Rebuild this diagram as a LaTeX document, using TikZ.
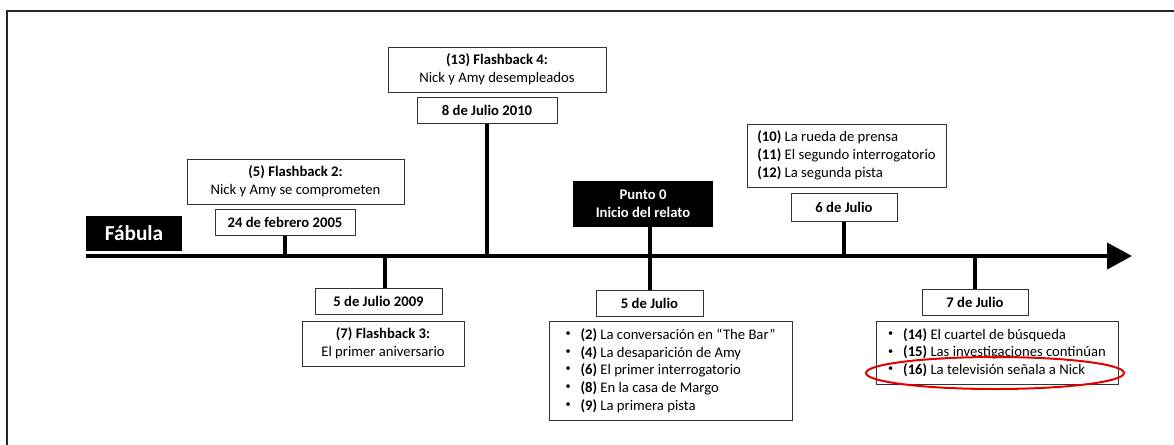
\documentclass[tikz,border=0pt]{standalone}
\usepackage{fontspec}
\setmainfont{Carlito}
\usetikzlibrary{arrows.meta}
\tikzset{
	datebox/.style={draw=black!80, line width=0.75pt, font=\bfseries, inner sep=0pt, minimum height=19.5pt},
	flashbox/.style={draw=black!80, line width=0.75pt, align=center, inner sep=0pt, minimum height=33.75pt},
	listbox/.style={draw=black!80, line width=0.75pt, align=left, inner sep=0pt},
	blackbox/.style={fill=black, text=white, font=\bfseries, align=center, inner sep=0pt},
	stemline/.style={line width=3pt},
}
\newcommand{\itm}{\makebox[11.25pt][l]{\raisebox{0.4ex}{\scalebox{0.7}{\textbullet}}}}

\begin{document}
\fontsize{11pt}{13.3pt}\selectfont
\begin{tikzpicture}[x=0.75pt, y=-0.75pt]
		%%%%% START %%%%%
		\useasboundingbox (0, 0) rectangle (1174, 444);
		\draw[line width=0.9pt, color=black!85] (7, 11) rectangle (1200, 470);
		
		\coordinate (tl0) at (86, 256);
		\coordinate (tl1) at (1132, 256);
		\draw[line width=3pt, -{Triangle[length=18.75pt, width=19.5pt]}] (tl0) -- (tl1);
		
		\node[blackbox, font=\fontsize{16pt}{19pt}\selectfont\bfseries, minimum width=72pt, minimum height=26.25pt] (fabula) at (134, 233.5) {Fábula};
		
		\node[flashbox, minimum width=162.75pt] (fb2) at (295.5, 181.5) {\textbf{(5) Flashback 2:}\\Nick y Amy se comprometen};
		\node[datebox, minimum width=105pt] (d2005) at (285, 222) {24 de febrero 2005};
		
		\node[flashbox, minimum width=163.5pt] (fb4) at (497, 69.5) {\textbf{(13) Flashback 4:}\\Nick y Amy desempleados};
		\node[datebox, minimum width=105pt] (d2010) at (487, 110) {8 de Julio 2010};
		
		\node[datebox, minimum width=95.25pt] (d2009) at (378.5, 301) {5 de Julio 2009};
		\node[flashbox, minimum width=121.5pt] (fb3) at (383, 343.5) {\textbf{(7) Flashback 3:}\\El primer aniversario};
		
		\node[blackbox, minimum width=105pt, minimum height=34.5pt] (punto) at (643, 204) {Punto 0\\Inicio del relato};
		\node[datebox, minimum width=80.25pt, minimum height=20pt] (d5jul) at (649.5, 303.5) {5 de Julio};
		\node[listbox, minimum width=182.25pt, minimum height=74.25pt] (l5jul) at (670.5, 370.5) {\itm\textbf{(2)} La conversación en “The Bar”\\\itm\textbf{(4)} La desaparición de Amy\\\itm\textbf{(6)} El primer interrogatorio\\\itm\textbf{(8)} En la casa de Margo\\\itm\textbf{(9)} La primera pista};
		
		\node[listbox, minimum width=149.25pt, minimum height=47.25pt] (l6jul) at (846.5, 155.5) {\textbf{(10)} La rueda de prensa\\\textbf{(11)} El segundo interrogatorio\\\textbf{(12)} La segunda pista};
		\node[datebox, minimum width=79.5pt, minimum height=21pt] (d6jul) at (844, 207) {6 de Julio};
		
		\node[datebox, minimum width=79.5pt, minimum height=20pt] (d7jul) at (975, 302.5) {7 de Julio};
		\node[listbox, minimum width=181.5pt, minimum height=47.25pt] (l7jul) at (997, 352.5) {\itm\textbf{(14)} El cuartel de búsqueda\\\itm\textbf{(15)} Las investigaciones continúan\\\itm\textbf{(16)} La televisión señala a Nick};
		
		\draw[stemline] (d2005.south) -- (d2005.south |- tl0);
		\draw[stemline] (d2010.south) -- (d2010.south |- tl0);
		\draw[stemline] ([xshift=4.9pt]d2009.north) -- ([xshift=4.9pt]d2009.north |- tl0);
		\draw[stemline] (d5jul.north) -- (d5jul.north |- punto.south);
		\draw[stemline] (d6jul.south) -- (d6jul.south |- tl0);
		\draw[stemline] (d7jul.north) -- (d7jul.north |- tl0);
		
		\draw[line width=1.5pt, color=red!90!black] (995, 373) ellipse [x radius=96.75pt, y radius=12pt];
		
		%%%%% END %%%%%
	\end{tikzpicture}
\end{document}
